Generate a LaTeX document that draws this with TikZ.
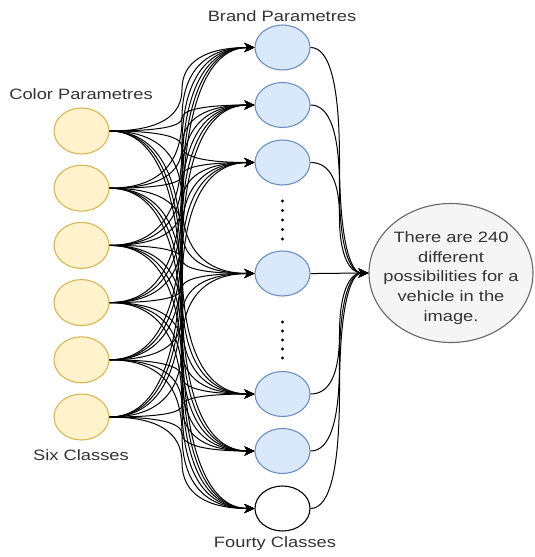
\documentclass[tikz,border=0pt]{standalone}
\usepackage{fontspec}
\setmainfont{Liberation Sans}
\usetikzlibrary{shapes.geometric,arrows.meta,calc}
\definecolor{colfill}{HTML}{FFF2CC}
\definecolor{colline}{HTML}{D6B656}
\definecolor{brfill}{HTML}{DAE8FC}
\definecolor{brline}{HTML}{6C8EBF}
\definecolor{resfill}{HTML}{F5F5F5}
\definecolor{resline}{HTML}{666666}
\definecolor{txt}{HTML}{333333}
% orthogonal-style curved connector: horizontal out, vertical in the middle, horizontal in
\newcommand\curveconn[2]{%
  \coordinate (mid) at ($(#1)!0.5!(#2)$);
  \draw[edge] (#1) .. controls ($(#1)!2/3!(mid |- #1)$) and ($(mid)!2/3!(mid |- #1)$) .. (mid)
    .. controls ($(mid)!2/3!(mid |- #2)$) and ($(#2)!2/3!(mid |- #2)$) .. (#2);}
\begin{document}
\begin{tikzpicture}[x=1pt,y=-1pt,
  colnode/.style={ellipse,draw=colline,fill=colfill,line width=1.1pt,minimum width=55pt,minimum height=46pt,inner sep=0pt},
  brnode/.style={ellipse,draw=brline,fill=brfill,line width=1.1pt,minimum width=55pt,minimum height=45pt,inner sep=0pt},
  emptynode/.style={ellipse,draw=black,fill=white,line width=1.1pt,minimum width=55pt,minimum height=45pt,inner sep=0pt},
  resnode/.style={ellipse,draw=resline,fill=resfill,line width=1.1pt,minimum width=164pt,minimum height=139pt,inner sep=0pt},
  lbl/.style={text=txt,font=\fontsize{15}{20}\selectfont,xscale=1.22,transform shape,inner sep=0pt},
  edge/.style={draw=black,line width=1pt,-{Stealth[length=10pt,width=9pt,inset=3pt]}},
  dotmark/.style={circle,fill=black,inner sep=0pt,minimum size=3.2pt}]
\useasboundingbox (0,0) rectangle (535,557);

% colour layer
\foreach \i/\y in {1/131,2/188.2,3/245.4,4/302.6,5/359.8,6/417}
  \node[colnode] (c\i) at (81.5,\y) {};

% brand layer
\foreach \j/\y in {1/47.5,2/105,3/162.5,4/273.5,5/394,6/451}
  \node[brnode] (b\j) at (282.5,\y) {};
\node[emptynode] (b7) at (282.5,508.5) {};

% result
\node[resnode] (res) at (451,273) {};
\node[lbl,align=center,font=\fontsize{15}{19.8}\selectfont] (restext) at (451,278)
  {There are 240\\different\\possibilities for a\\vehicle in the\\image.};

% ellipsis dots
\foreach \k/\y in {1/201,2/210.5,3/220,4/229.5,5/239}
  \node[dotmark] (du\k) at (282.5,\y) {};
\foreach \k/\y in {1/322,2/331,3/340,4/349,5/358}
  \node[dotmark] (dl\k) at (282.5,\y) {};

% labels
\node[lbl] (lcol) at (81,94) {Color Parametres};
\node[lbl] (lsix) at (81,455) {Six Classes};
\node[lbl] (lbrand) at (282,16) {Brand Parametres};
\node[lbl] (lforty) at (275,544) {Fourty Classes};

% connectors
\foreach \i in {1,...,6}
  \foreach \j in {1,...,7}
    {\curveconn{c\i.east}{b\j.west}}
\foreach \j in {1,...,7}
  {\curveconn{b\j.east}{res.west}}
\end{tikzpicture}
\end{document}
